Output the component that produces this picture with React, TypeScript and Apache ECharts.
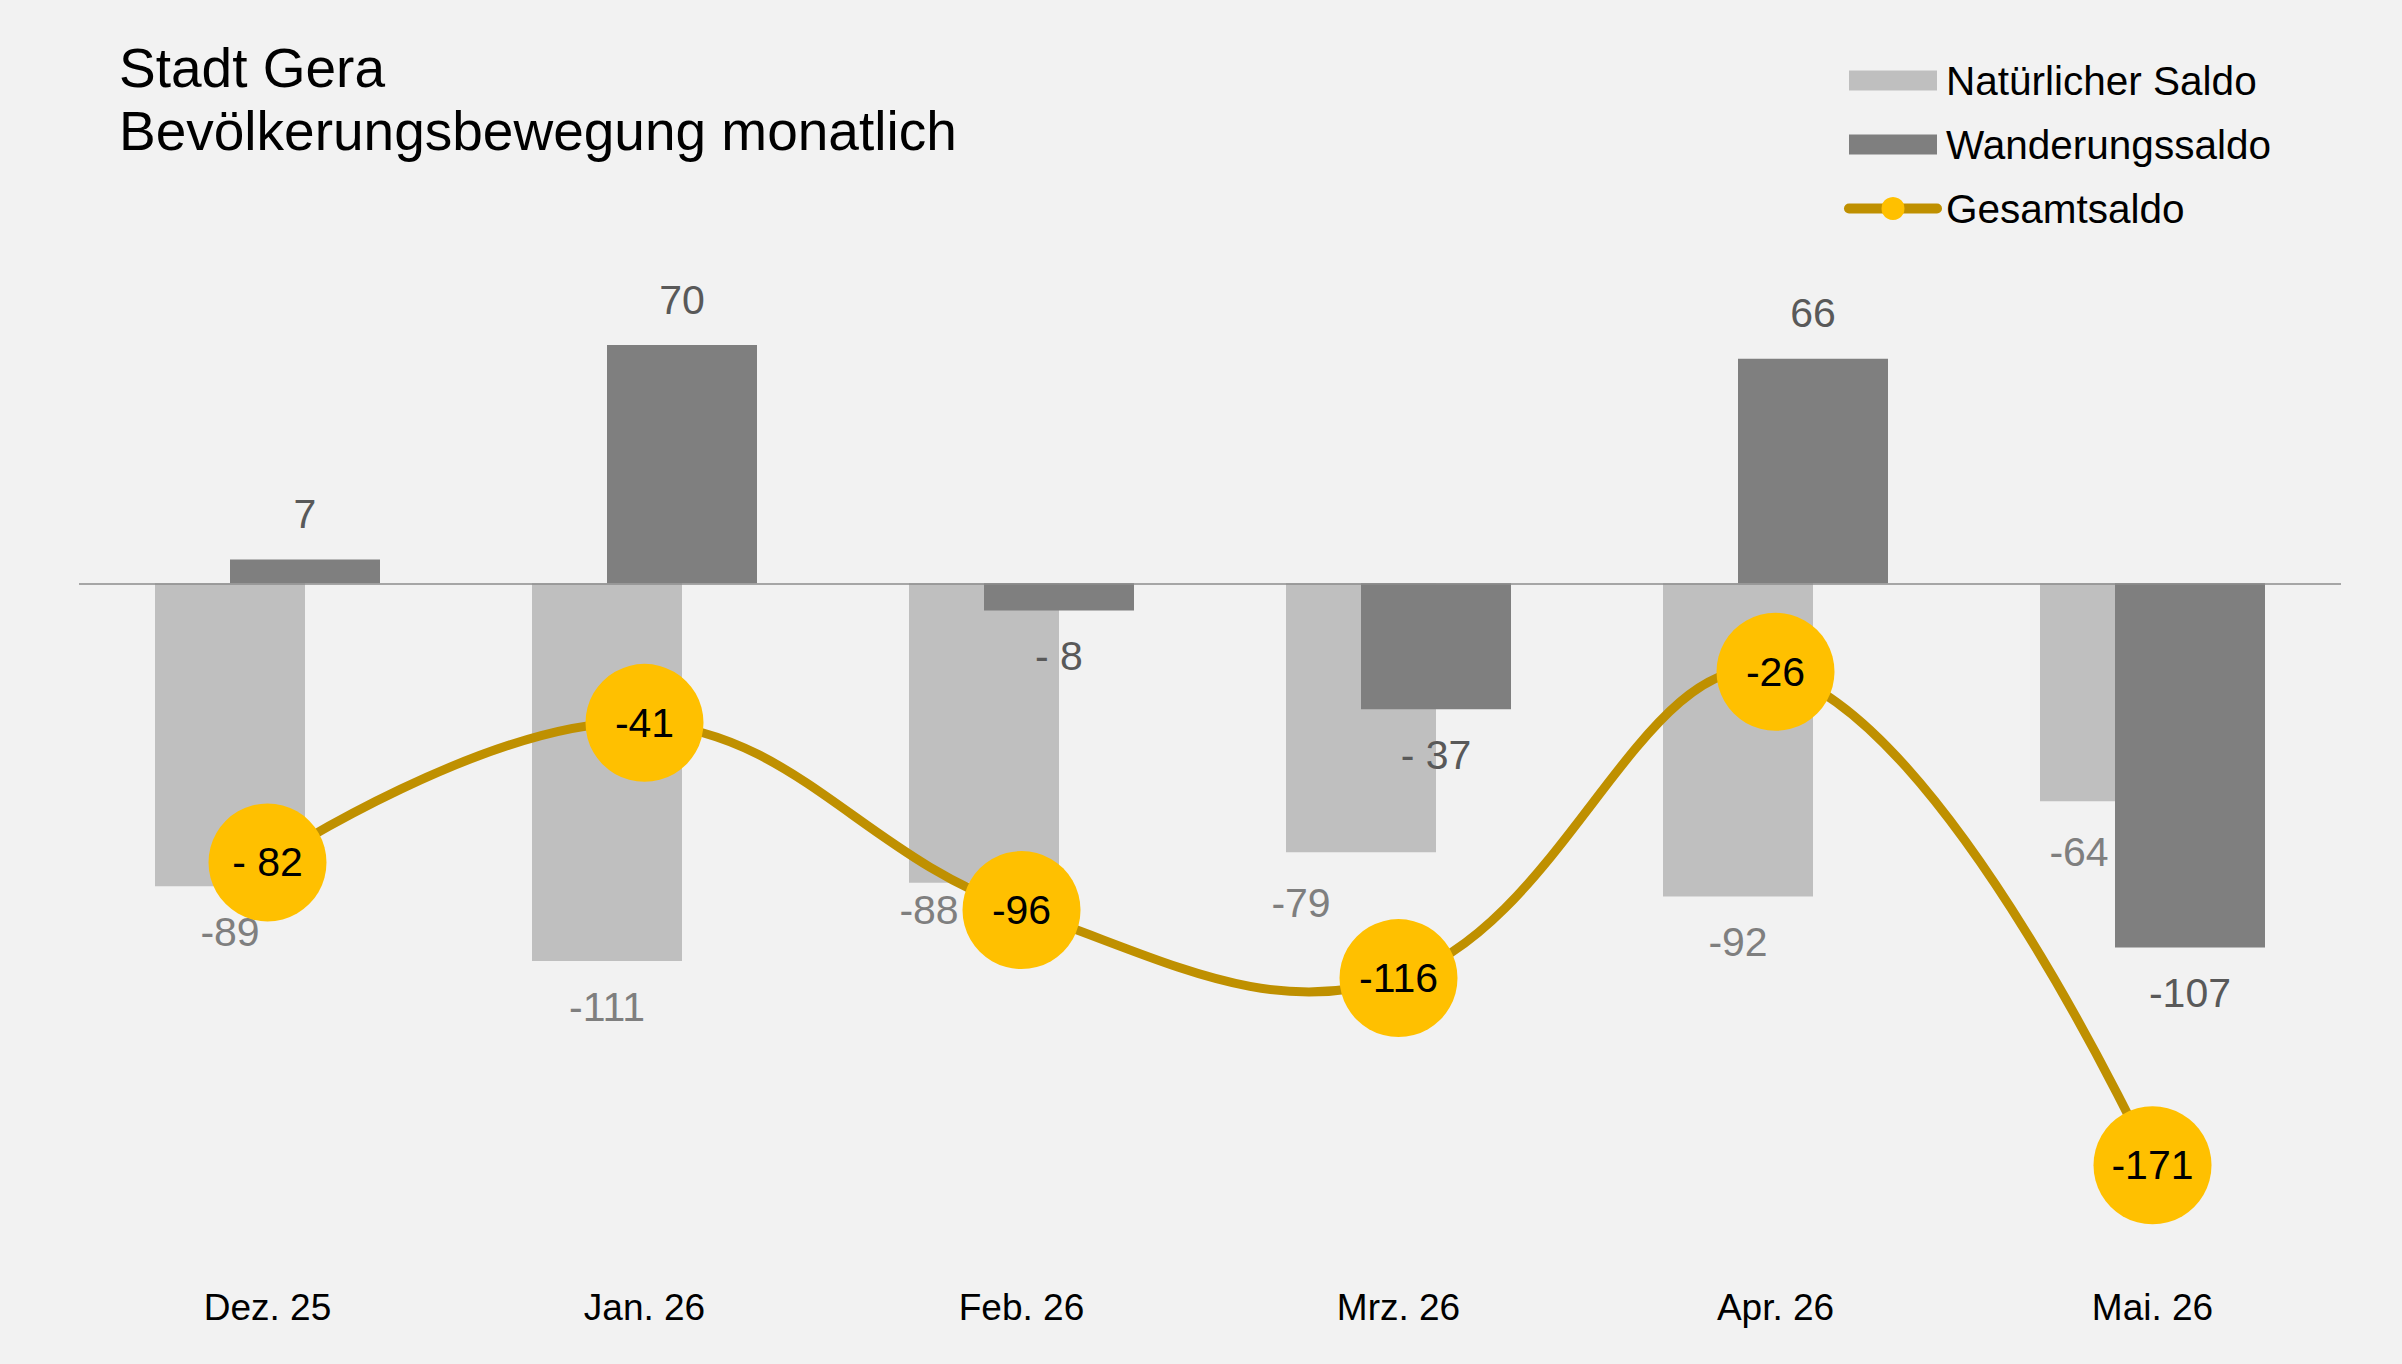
import React, { useEffect, useRef } from "react";
import * as echarts from "echarts";

const categories = ["Dez. 25", "Jan. 26", "Feb. 26", "Mrz. 26", "Apr. 26", "Mai. 26"];
const natuerlicherSaldo = [-89, -111, -88, -79, -92, -64];
const wanderungssaldo = [7, 70, -8, -37, 66, -107];
const gesamtsaldo = [-82, -41, -96, -116, -26, -171];
const natuerlicherLabels = ["-89", "-111", "-88", "-79", "-92", "-64"];
const wanderungsLabels = ["7", "70", "- 8", "- 37", "66", "-107"];
const gesamtLabels = ["- 82", "-41", "-96", "-116", "-26", "-171"];

// label nudges (px) mirroring the reference's manual label placement
const natLabelOffsets: [number, number][] = [[0, 0], [0, 0], [-55, -18], [-60, 5], [0, 0], [-36, 5]];

const FONT = "'Liberation Sans', Arial, Helvetica, sans-serif";
const LINE_COLOR = "#bf9000";
const MARKER_COLOR = "#ffc000";

export default function App() {
  const ref = useRef<HTMLDivElement>(null);
  useEffect(() => {
    document.body.style.margin = "0";
    const chart = echarts.init(ref.current!, undefined, { renderer: "svg" });
    chart.setOption({
      animation: false,
      backgroundColor: "#f2f2f2",
      textStyle: { fontFamily: FONT },
      title: {
        text: "Stadt Gera\nBevölkerungsbewegung monatlich",
        left: 119,
        top: 36,
        padding: 0,
        textStyle: { fontFamily: FONT, fontSize: 55, lineHeight: 63, fontWeight: "normal", color: "#000" },
      },
      legend: {
        orient: "vertical",
        left: 1844,
        top: 60,
        padding: 0,
        itemGap: 23,
        itemWidth: 88,
        itemHeight: 20,
        selectedMode: false,
        textStyle: { fontFamily: FONT, fontSize: 40.5, lineHeight: 40, color: "#000", padding: [0, 0, 0, 4] },
        data: [
          { name: "Natürlicher Saldo", icon: "rect" },
          { name: "Wanderungssaldo", icon: "rect" },
          {
            name: "Gesamtsaldo",
            itemStyle: { color: MARKER_COLOR, borderColor: MARKER_COLOR, borderWidth: 7, opacity: 1 },
            lineStyle: { color: LINE_COLOR, width: 10, cap: "round", opacity: 1 },
          },
        ],
      },
      grid: { left: 79, right: 61, top: 243, bottom: 100, containLabel: false },
      xAxis: {
        type: "category",
        data: categories,
        axisLine: { show: false, onZero: false },
        axisTick: { show: false },
        splitLine: { show: false },
        axisLabel: { fontFamily: FONT, fontSize: 37, lineHeight: 40, color: "#000", margin: 23 },
      },
      yAxis: {
        type: "value",
        min: -200,
        max: 100,
        show: false,
        splitLine: { show: false },
      },
      series: [
        {
          name: "Natürlicher Saldo",
          type: "bar",
          barWidth: 150,
          barGap: "-50%",
          itemStyle: { color: "#bfbfbf" },
          z: 2,
          data: natuerlicherSaldo.map((v, i) => ({
            value: v,
            label: {
              show: true,
              position: v < 0 ? "bottom" : "top",
              distance: 25,
              offset: natLabelOffsets[i],
              formatter: natuerlicherLabels[i],
              fontFamily: FONT,
              fontSize: 41,
              color: "#7f7f7f",
            },
          })),
          markLine: {
            silent: true,
            symbol: ["none", "none"],
            label: { show: false },
            lineStyle: { color: "#8c8c8c", width: 1.5, type: "solid" },
            data: [{ yAxis: 0 }],
          },
        },
        {
          name: "Wanderungssaldo",
          type: "bar",
          barWidth: 150,
          barGap: "-50%",
          itemStyle: { color: "#7f7f7f" },
          z: 3,
          data: wanderungssaldo.map((v, i) => ({
            value: v,
            label: {
              show: true,
              position: v < 0 ? "bottom" : "top",
              distance: 25,
              formatter: wanderungsLabels[i],
              fontFamily: FONT,
              fontSize: 41,
              color: "#595959",
            },
          })),
        },
        {
          // smooth connecting curve (unconstrained Catmull-Rom-like, as in the reference)
          type: "custom",
          coordinateSystem: "cartesian2d",
          silent: true,
          z: 4,
          data: gesamtsaldo,
          renderItem: (params: any, api: any) => {
            if (params.dataIndex !== 0) return null;
            const points = gesamtsaldo.map((v, i) => api.coord([i, v]));
            return {
              type: "polyline",
              shape: { points, smooth: 0.4 },
              style: { stroke: LINE_COLOR, lineWidth: 9, fill: null, lineJoin: "round" },
            };
          },
        },
        {
          name: "Gesamtsaldo",
          type: "line",
          symbol: "circle",
          symbolSize: 118,
          z: 5,
          itemStyle: { color: MARKER_COLOR },
          lineStyle: { color: LINE_COLOR, width: 9, opacity: 0 },
          label: {
            show: true,
            position: "inside",
            fontFamily: FONT,
            fontSize: 41,
            color: "#000",
            formatter: (p: any) => gesamtLabels[p.dataIndex],
          },
          data: gesamtsaldo,
        },
      ],
    });
    return () => chart.dispose();
  }, []);
  return <div ref={ref} style={{ width: 2402, height: 1364 }} />;
}
